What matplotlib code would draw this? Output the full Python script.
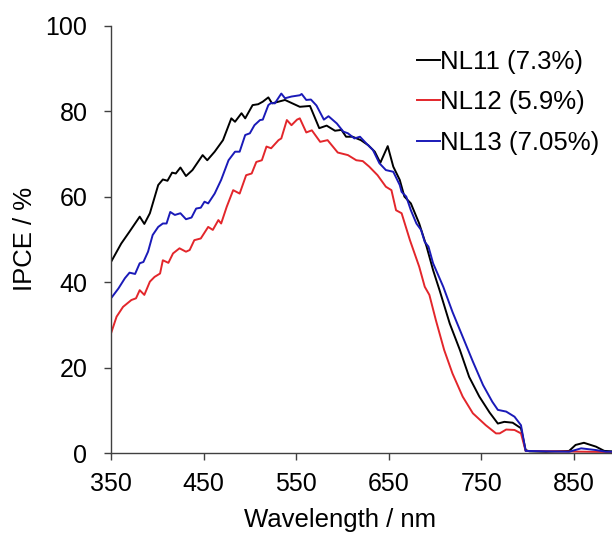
import matplotlib
matplotlib.use("Agg")
import matplotlib.pyplot as plt

plt.rcParams['font.family'] = ['Liberation Sans', 'DejaVu Sans']

# IPCE spectra (wavelength in nm, IPCE in %)
wl_nl11 = [350, 361, 370, 381, 386, 392, 401, 406, 411, 416, 420, 425, 431, 438, 449,
           454, 462, 471, 480, 484, 491, 495, 503, 509, 514, 520, 524, 531, 538, 545,
           554, 565, 575, 583, 592, 599, 604, 611, 620, 628, 635, 641, 649, 655, 662,
           667, 674, 683, 691, 698, 705, 716, 727, 737, 748, 759, 768, 775, 784, 793,
           798, 802, 820, 845, 852, 861, 874, 883, 900]
ipce_nl11 = [44.7, 49.0, 51.8, 55.3, 53.6, 56.1, 62.7, 64.0, 63.7, 65.6, 65.4, 66.8, 64.8, 66.2, 69.7,
             68.5, 70.5, 73.2, 78.3, 77.5, 79.5, 78.3, 81.4, 81.6, 82.2, 83.2, 81.8, 82.2, 82.6, 81.9,
             81.0, 81.2, 76.0, 76.6, 75.4, 75.6, 74.0, 74.0, 73.2, 72.0, 70.5, 67.9, 71.8, 67.0, 63.9,
             60.0, 58.4, 53.7, 48.3, 42.8, 38.1, 30.3, 24.1, 17.8, 13.2, 9.5, 6.9, 7.3, 7.1, 5.8,
             0.7, 0.4, 0.3, 0.5, 1.9, 2.4, 1.5, 0.5, 0.3]

wl_nl12 = [350, 356, 363, 372, 377, 381, 386, 392, 397, 403, 406, 412, 417, 424, 431,
           435, 440, 447, 455, 460, 466, 469, 475, 482, 489, 496, 502, 507, 513, 518,
           523, 531, 534, 540, 545, 551, 554, 561, 567, 576, 584, 595, 606, 615, 622,
           629, 638, 647, 653, 658, 664, 673, 683, 689, 694, 701, 710, 719, 730, 741,
           755, 766, 770, 777, 786, 793, 798, 900]
ipce_nl12 = [28.0, 31.9, 34.2, 35.8, 36.2, 38.1, 37.0, 40.1, 41.2, 42.0, 45.1, 44.5, 46.7, 47.9, 47.1,
             47.5, 49.8, 50.2, 52.9, 52.2, 54.5, 53.7, 57.6, 61.5, 60.7, 65.0, 65.4, 68.1, 68.5, 71.7,
             71.3, 73.2, 73.6, 77.9, 76.7, 78.0, 78.3, 75.0, 75.5, 72.8, 73.2, 70.3, 69.7, 68.5, 68.3,
             67.0, 65.0, 62.3, 61.5, 56.8, 56.1, 49.8, 43.6, 38.9, 37.0, 31.1, 24.1, 18.6, 13.2, 9.3,
             6.5, 4.6, 4.6, 5.5, 5.4, 4.6, 0.5, 0.2]

wl_nl13 = [350, 358, 365, 370, 376, 381, 385, 390, 395, 401, 406, 410, 414, 419, 425,
           431, 437, 442, 447, 451, 455, 462, 469, 477, 484, 489, 495, 500, 505, 511,
           514, 520, 523, 527, 534, 538, 545, 554, 556, 561, 566, 572, 580, 585, 594,
           601, 606, 613, 619, 626, 633, 640, 647, 655, 662, 664, 669, 674, 680, 685,
           689, 693, 698, 709, 719, 730, 741, 752, 762, 768, 777, 786, 793, 798, 845,
           858, 874, 885, 900]
ipce_nl13 = [36.2, 38.5, 40.9, 42.2, 41.9, 44.4, 44.7, 47.1, 51.0, 52.9, 53.7, 53.7, 56.4, 55.7, 56.1,
             54.7, 55.1, 57.2, 57.4, 58.8, 58.4, 60.7, 63.9, 68.5, 70.5, 70.5, 74.4, 74.8, 76.7, 77.9,
             78.0, 81.4, 81.9, 81.8, 84.1, 83.0, 83.4, 83.7, 84.0, 82.6, 82.7, 81.3, 78.0, 78.8, 77.1,
             75.2, 74.8, 73.6, 74.0, 72.4, 70.9, 67.8, 66.2, 65.8, 62.7, 61.1, 60.0, 56.8, 53.7, 52.2,
             49.4, 48.3, 44.4, 38.9, 33.0, 27.2, 21.4, 15.9, 12.0, 10.1, 9.7, 8.5, 6.5, 0.5, 0.3,
             1.1, 0.7, 0.3, 0.3]

labels = ['NL11 (7.3%)', 'NL12 (5.9%)', 'NL13 (7.05%)']
colors = ['#000000', '#e3262b', '#1a1ab8']

fig = plt.figure(figsize=(6.12, 5.33), dpi=100)
ax = fig.add_axes([0.1814, 0.150, 0.8317, 0.802])

ax.plot(wl_nl11, ipce_nl11, color=colors[0], lw=1.4, label=labels[0])
ax.plot(wl_nl12, ipce_nl12, color=colors[1], lw=1.4, label=labels[1])
ax.plot(wl_nl13, ipce_nl13, color=colors[2], lw=1.4, label=labels[2])

ax.set_xlim(350, 900)
ax.set_ylim(0, 100)
ax.set_xticks([350, 450, 550, 650, 750, 850])
ax.set_yticks([0, 20, 40, 60, 80, 100])

for s in ['top', 'right']:
    ax.spines[s].set_visible(False)
for s in ['left', 'bottom']:
    ax.spines[s].set_color('#404040')
    ax.spines[s].set_linewidth(1.0)

ax.tick_params(axis='both', direction='out', length=5, width=1.0,
               color='#404040', labelsize=18)
ax.tick_params(axis='x', pad=9)
ax.tick_params(axis='y', pad=12)

ax.set_xlabel('Wavelength / nm', fontsize=18.5)
ax.set_ylabel('IPCE / %', fontsize=18.5)
ax.xaxis.set_label_coords(0.45, -0.128)
ax.yaxis.set_label_coords(-0.145, 0.5)

ax.legend(loc='upper left', bbox_to_anchor=(0.660, 0.931), bbox_transform=fig.transFigure,
          frameon=False, fontsize=18.5, handlelength=0.9, handletextpad=0.0,
          labelspacing=0.65, borderpad=0)

fig.savefig('out.png', dpi=100)
